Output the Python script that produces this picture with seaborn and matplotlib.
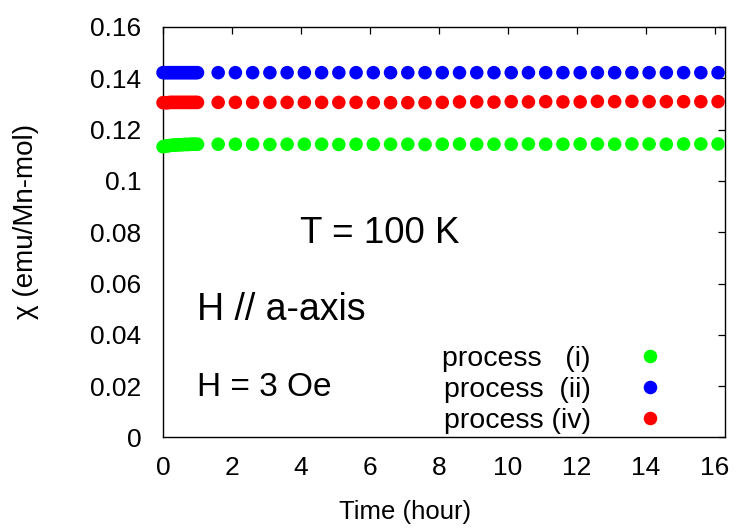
import numpy as np
import pandas as pd
import matplotlib
matplotlib.use("Agg")
import matplotlib.pyplot as plt
import seaborn as sns

# Time axis (hours): dense sampling during the first hour, then every half hour
time_dense = [0.0, 0.05, 0.1, 0.15, 0.2, 0.25, 0.3, 0.35, 0.4, 0.45, 0.5,
              0.55, 0.6, 0.65, 0.7, 0.75, 0.8, 0.85, 0.9, 0.95, 1.0]
time_sparse = [1.6, 2.1, 2.6, 3.1, 3.6, 4.1, 4.6, 5.1, 5.6, 6.1,
               6.6, 7.1, 7.6, 8.1, 8.6, 9.1, 9.6, 10.1, 10.6, 11.1,
               11.6, 12.1, 12.6, 13.1, 13.6, 14.1, 14.6, 15.1, 15.6, 16.1]

# Susceptibility chi (emu/Mn-mol) for each process
chi_i_dense = [0.1133, 0.1135, 0.1136, 0.1137, 0.1138, 0.1139, 0.1139, 0.1140, 0.1140, 0.1141, 0.1141,
               0.1141, 0.1142, 0.1142, 0.1142, 0.1142, 0.1143, 0.1143, 0.1143, 0.1143, 0.1143]
chi_i_sparse = [0.1143, 0.1143, 0.1143, 0.1142, 0.1143, 0.1143, 0.1143, 0.1142, 0.1143, 0.1143,
                0.1143, 0.1143, 0.1142, 0.1143, 0.1144, 0.1143, 0.1143, 0.1143, 0.1144, 0.1143,
                0.1143, 0.1144, 0.1144, 0.1143, 0.1144, 0.1144, 0.1143, 0.1144, 0.1144, 0.1144]

chi_ii_dense = [0.1422] * 21
chi_ii_sparse = [0.1422, 0.1422, 0.1422, 0.1422, 0.1422, 0.1422, 0.1422, 0.1422, 0.1422, 0.1422,
                 0.1422, 0.1422, 0.1422, 0.1422, 0.1422, 0.1422, 0.1422, 0.1422, 0.1422, 0.1422,
                 0.1422, 0.1422, 0.1422, 0.1422, 0.1422, 0.1422, 0.1422, 0.1422, 0.1422, 0.1422]

chi_iv_dense = [0.1305, 0.1305, 0.1305, 0.1305, 0.1306, 0.1306, 0.1306, 0.1306, 0.1306, 0.1306, 0.1306,
                0.1306, 0.1306, 0.1306, 0.1306, 0.1306, 0.1306, 0.1306, 0.1306, 0.1306, 0.1306]
chi_iv_sparse = [0.1306, 0.1306, 0.1306, 0.1306, 0.1306, 0.1306, 0.1306, 0.1306, 0.1306, 0.1305,
                 0.1305, 0.1305, 0.1305, 0.1306, 0.1308, 0.1308, 0.1307, 0.1309, 0.1308, 0.1309,
                 0.1308, 0.1308, 0.1310, 0.1309, 0.1310, 0.1309, 0.1309, 0.1309, 0.1309, 0.1309]

labels = ["process   (i)", "process  (ii)", "process (iv)"]
colors = ["#00ff00", "#0000ff", "#ff0000"]

times = time_dense + time_sparse
frames = []
for lab, d, s in zip(labels,
                     [chi_i_dense, chi_ii_dense, chi_iv_dense],
                     [chi_i_sparse, chi_ii_sparse, chi_iv_sparse]):
    frames.append(pd.DataFrame({"time": times, "chi": d + s, "process": lab}))
df = pd.concat(frames, ignore_index=True)

sns.set_style("white")
plt.rcParams["font.family"] = ["Liberation Sans", "DejaVu Sans"]
plt.rcParams.update({"text.color": "black", "axes.labelcolor": "black",
                     "xtick.color": "black", "ytick.color": "black"})

fig = plt.figure(figsize=(7.39, 5.29), dpi=100)
ax = fig.add_axes([0.2206, 0.173, 0.7604, 0.776])

marker_area = 95
sns.scatterplot(data=df, x="time", y="chi", hue="process", hue_order=labels,
                palette=colors, s=marker_area, linewidth=0, ax=ax, clip_on=False, zorder=3)

ax.set_xlim(0, 16.3)
ax.set_ylim(0, 0.16)
ax.set_xticks([0, 2, 4, 6, 8, 10, 12, 14, 16])
ax.set_yticks([0, 0.02, 0.04, 0.06, 0.08, 0.1, 0.12, 0.14, 0.16])
ax.set_yticklabels(["0", "0.02", "0.04", "0.06", "0.08", "0.1", "0.12", "0.14", "0.16"])

for sp in ax.spines.values():
    sp.set_visible(True)
    sp.set_color("black")
    sp.set_linewidth(1.0)

ax.tick_params(axis="both", which="major", direction="in", length=5, width=0.9,
               top=True, right=True, labelsize=19, colors="black")
ax.tick_params(axis="y", pad=15.5)
ax.tick_params(axis="x", pad=13)

ax.set_xlabel("Time (hour)", fontsize=18.5)
ax.set_ylabel("χ (emu/Mn-mol)", fontsize=20)
ax.xaxis.set_label_coords(0.4306, -0.152)
ax.yaxis.set_label_coords(-0.221, 0.527)

ax.text(6.3, 0.0795, "T = 100 K", fontsize=26.5, ha="center", va="center")
ax.text(1.0, 0.0495, "H // a-axis", fontsize=27, ha="left", va="center")
ax.text(1.0, 0.0195, "H = 3 Oe", fontsize=24, ha="left", va="center")

leg = ax.legend(loc="lower right", bbox_to_anchor=(0.913, -0.019), frameon=False,
                markerfirst=False, fontsize=20.5, labelspacing=0.18,
                handlelength=1.0, handletextpad=1.6, borderaxespad=0.0, title=None)
for h in leg.legend_handles:
    h.set_markersize(np.sqrt(marker_area))

fig.savefig("out.png", dpi=100)
